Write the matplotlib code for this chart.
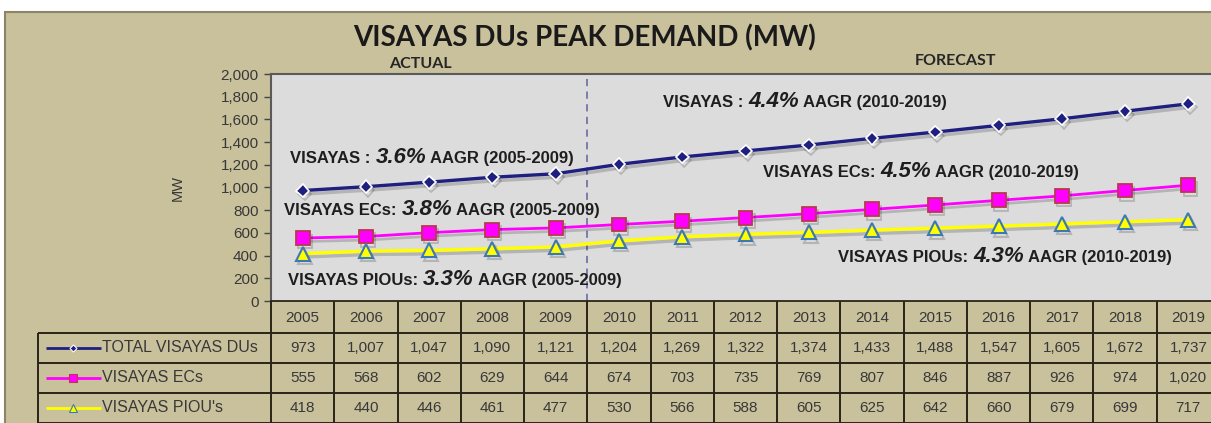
import matplotlib
matplotlib.use('Agg')
import matplotlib.pyplot as plt
import matplotlib.patheffects as pe
import matplotlib.transforms as mtransforms
from matplotlib.patches import Rectangle
from matplotlib.ticker import FuncFormatter

# data
years = [2005, 2006, 2007, 2008, 2009, 2010, 2011, 2012, 2013, 2014, 2015, 2016, 2017, 2018, 2019]
total_dus = [973, 1007, 1047, 1090, 1121, 1204, 1269, 1322, 1374, 1433, 1488, 1547, 1605, 1672, 1737]
visayas_ecs = [555, 568, 602, 629, 644, 674, 703, 735, 769, 807, 846, 887, 926, 974, 1020]
visayas_pious = [418, 440, 446, 461, 477, 530, 566, 588, 605, 625, 642, 660, 679, 699, 717]
row_names = ['TOTAL VISAYAS DUs', 'VISAYAS ECs', "VISAYAS PIOU's"]

W, H = 1211, 423
KHAKI = '#c9c19c'
NARROW = ['Liberation Sans Narrow', 'Liberation Sans', 'DejaVu Sans']
TXT = '#383838'

fig = plt.figure(figsize=(W / 100, H / 100), dpi=100)
fig.patch.set_facecolor('white')

# background frame
bg = fig.add_axes([0, 0, 1, 1], zorder=0)
bg.set_xlim(0, W)
bg.set_ylim(H, 0)
bg.axis('off')
bg.add_patch(Rectangle((5, 12), W, H, facecolor=KHAKI, edgecolor='#8c8468', lw=1.5))


def px_box(l, t, r, b):
    return [l / W, 1 - b / H, (r - l) / W, (b - t) / H]


# ---- plot area ----
ax = fig.add_axes(px_box(271, 74, 1220, 301), zorder=2)
ax.set_facecolor('#dcdcdc')
xs = list(range(len(years)))

styles = [
    (total_dus, dict(color='#1f1f80', lw=2.4, marker='D', ms=6.5, mfc='#1f1f80', mec='white', mew=1.2)),
    (visayas_ecs, dict(color='#ff00ff', lw=2.0, marker='s', ms=10, mfc='#ff00ff', mec='#b8384e', mew=1.3)),
    (visayas_pious, dict(color='#ffff00', lw=2.4, marker='^', ms=10, mfc='#ffff00', mec='#3b78b4', mew=1.5)),
]
shadow = [pe.SimpleLineShadow(offset=(1.5, -2.5), shadow_color='black', alpha=0.18), pe.Normal()]
for vals, st in styles:
    ax.plot(xs, vals, path_effects=shadow, zorder=3, **st)

ax.axvline(4.5, color='#7474aa', lw=1.3, ls=(0, (4, 3)), zorder=2)

ax.set_xlim(-0.5, len(years) - 0.5)
ax.set_ylim(0, 2000)
ax.set_yticks(range(0, 2001, 200))
ax.yaxis.set_major_formatter(FuncFormatter(lambda v, p: f'{int(v):,}'))
ax.set_xticks([])
ax.tick_params(axis='y', direction='out', length=5, width=1, color='#444444',
               labelsize=11, labelcolor=TXT, pad=4)
for lab in ax.get_yticklabels():
    lab.set_family(NARROW)
for side in ['left', 'top']:
    ax.spines[side].set_color('#5a5a5a')
    ax.spines[side].set_linewidth(1.5)
ax.spines['right'].set_visible(False)
ax.spines['bottom'].set_color('#2a2418')
ax.spines['bottom'].set_linewidth(1.3)
ax.set_ylabel('MW', family=NARROW, fontsize=10.5, color=TXT, labelpad=26)

# ---- overlay for title, notes and table ----
ov = fig.add_axes([0, 0, 1, 1], zorder=5)
ov.set_xlim(0, W)
ov.set_ylim(H, 0)
ov.axis('off')

ov.text(585, 38, 'VISAYAS DUs PEAK DEMAND (MW)', ha='center', va='center',
        family='Lato', weight='bold', fontsize=20, color='#1a1a1a')
ov.text(420, 64, 'ACTUAL', ha='center', va='center', family='Lato', weight='bold', fontsize=11.5, color='#262626')
ov.text(955, 61, 'FORECAST', ha='center', va='center', family='Lato', weight='bold', fontsize=11.5, color='#262626')

renderer = fig.canvas.get_renderer()
base = dict(family=NARROW, weight='bold', fontsize=12, color='#1e1e1e')
pct = dict(family='Liberation Sans', weight='bold', style='italic', fontsize=16, color='#1e1e1e')


def rich(x, y, label, rate, period):
    for s, kw, gap in [(label, base, 5), (rate, pct, 4), ('AAGR ' + period, base, 0)]:
        t = ov.text(x, y, s, va='baseline', ha='left', **kw)
        x += t.get_window_extent(renderer).width + gap


rich(290, 163, 'VISAYAS :', '3.6%', '(2005-2009)')
rich(663, 107, 'VISAYAS :', '4.4%', '(2010-2019)')
rich(284, 215, 'VISAYAS ECs:', '3.8%', '(2005-2009)')
rich(763, 177, 'VISAYAS ECs:', '4.5%', '(2010-2019)')
rich(838, 262, 'VISAYAS PIOUs:', '4.3%', '(2010-2019)')
rich(288, 285, 'VISAYAS PIOUs:', '3.3%', '(2005-2009)')

# table below the plot, columns follow the category scale of the plot
trans = mtransforms.blended_transform_factory(ax.transData, ov.transData)
LINE = dict(color='#2a2418', lw=1.4, clip_on=False, solid_capstyle='butt')
head = (301, 333)
rows = [(333, 363), (363, 393), (393, 423)]
n = len(years)
for i in range(n + 1):
    ov.plot([i - 0.5, i - 0.5], [head[0], rows[-1][1]], transform=trans, **LINE)
x_left = ax.transData.transform((-0.5, 0))[0]
for yb in [head[1], rows[0][1], rows[1][1], rows[2][1]]:
    ov.plot([38, x_left], [yb, yb], **LINE)
    ov.plot([-0.5, n - 0.5], [yb, yb], transform=trans, **LINE)
ov.plot([38, 38], [head[1], rows[-1][1]], **LINE)

cell = dict(ha='center', va='center', family=NARROW, fontsize=11, color=TXT)
for i, yr in enumerate(years):
    ov.text(i, sum(head) / 2 + 1, str(yr), transform=trans, **cell)

for (vals, st), name, (y0, y1) in zip(styles, row_names, rows):
    yc = (y0 + y1) / 2
    for i, v in enumerate(vals):
        ov.text(i, yc, f'{v:,}', transform=trans, **cell)
    ov.plot([46, 101], [yc, yc], color=st['color'], lw=2, solid_capstyle='butt')
    ov.plot([73], [yc], marker=st['marker'], ms=st['ms'] * 0.55, mfc=st['mfc'],
            mec=st['mec'], mew=0.8, color=st['color'])
    ov.text(102, yc, name, ha='left', va='center', family=NARROW, fontsize=11.5, color=TXT)

fig.savefig('out.png', dpi=100, facecolor='white')
